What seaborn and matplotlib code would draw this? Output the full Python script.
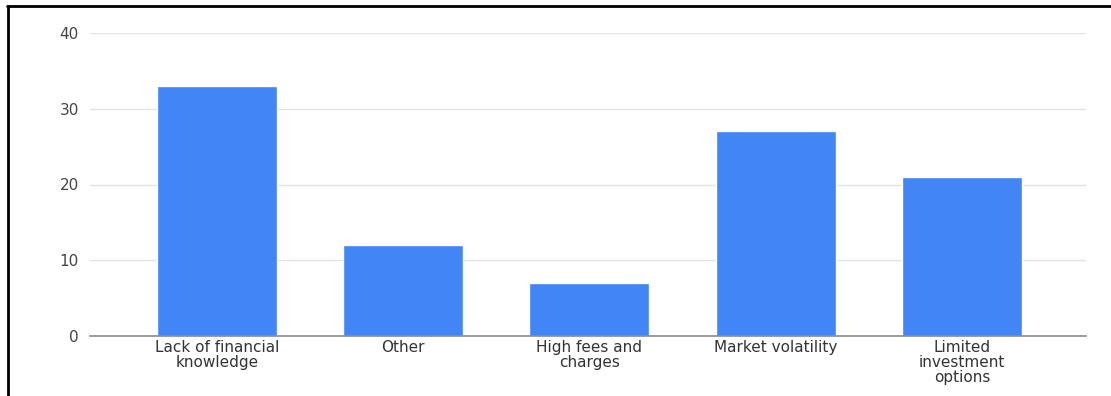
import matplotlib
matplotlib.use("Agg")
import matplotlib.pyplot as plt
import seaborn as sns
import pandas as pd
from matplotlib.lines import Line2D

categories = [
    "Lack of financial\nknowledge",
    "Other",
    "High fees and\ncharges",
    "Market volatility",
    "Limited\ninvestment\noptions",
]
counts = [33, 12, 7, 27, 21]
y_ticks = [0, 10, 20, 30, 40]

sns.set_theme(style="white")
plt.rcParams["font.family"] = ["DejaVu Sans"]

df = pd.DataFrame({"reason": categories, "count": counts})

fig = plt.figure(figsize=(11.11, 3.96), dpi=100)
ax = fig.add_axes([90 / 1111, 1 - 336 / 396, 996 / 1111, 303 / 396])

sns.barplot(data=df, x="reason", y="count", color="#4285F4", saturation=1,
            width=0.645, ax=ax, zorder=3)

ax.set_ylim(0, 40)
ax.set_xlim(-0.68, 4.665)
ax.set_yticks(y_ticks)
ax.set_yticklabels([str(v) for v in y_ticks])
ax.set_xlabel("")
ax.set_ylabel("")

ax.grid(axis="y", color="#e3e3e3", linewidth=1, zorder=0)
for side in ["top", "right", "left"]:
    ax.spines[side].set_visible(False)
ax.spines["bottom"].set_color("#8a8a8a")
ax.spines["bottom"].set_linewidth(1.2)
ax.spines["bottom"].set_zorder(4)

ax.tick_params(axis="y", length=0, pad=8, labelsize=11, labelcolor="#444444")
ax.tick_params(axis="x", length=0, pad=3, labelsize=11, labelcolor="#333333")
for lbl in ax.get_xticklabels():
    lbl.set_linespacing(0.98)

# outer frame on the left and top
fig.add_artist(Line2D([7.5 / 1111, 7.5 / 1111], [0, 1 - 6 / 396],
                      transform=fig.transFigure, color="black", linewidth=2))
fig.add_artist(Line2D([7 / 1111, 1], [1 - 6 / 396, 1 - 6 / 396],
                      transform=fig.transFigure, color="black", linewidth=2))

fig.savefig("out.png", dpi=100)
